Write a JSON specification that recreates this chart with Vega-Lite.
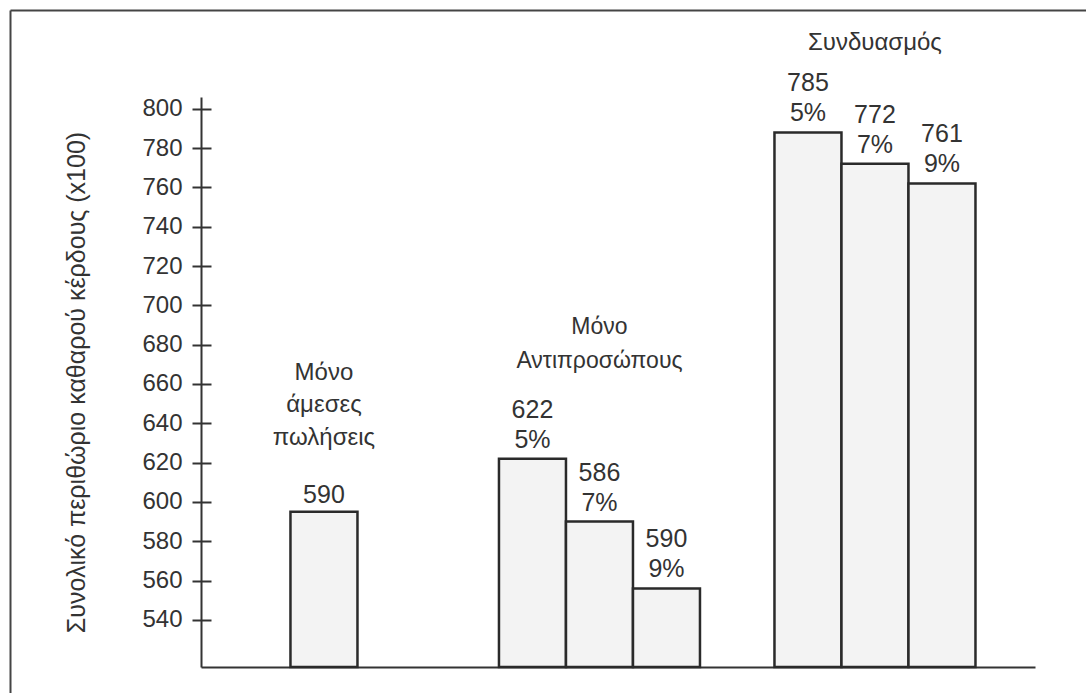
{
  "$schema": "https://vega.github.io/schema/vega-lite/v6.json",
  "width": 1076,
  "height": 683,
  "autosize": {"type": "none"},
  "padding": {"left": 10, "top": 10, "right": 0, "bottom": 0},
  "background": "white",
  "config": {
    "view": {"stroke": null},
    "font": "Liberation Sans"
  },
  "data": {
    "values": [
      {"group": "Μόνο\nάμεσες\nπωλήσεις", "slot": "b", "rate": null, "value": 595, "label": "590"},
      {"group": "Μόνο\nΑντιπροσώπους", "slot": "a", "rate": "5%", "value": 622, "label": "622"},
      {"group": "Μόνο\nΑντιπροσώπους", "slot": "b", "rate": "7%", "value": 590, "label": "586"},
      {"group": "Μόνο\nΑντιπροσώπους", "slot": "c", "rate": "9%", "value": 556, "label": "590"},
      {"group": "Συνδυασμός", "slot": "a", "rate": "5%", "value": 788, "label": "785"},
      {"group": "Συνδυασμός", "slot": "b", "rate": "7%", "value": 772, "label": "772"},
      {"group": "Συνδυασμός", "slot": "c", "rate": "9%", "value": 762, "label": "761"}
    ]
  },
  "layer": [
    {
      "encoding": {
        "x": {
          "field": "group",
          "type": "nominal",
          "scale": {
            "domain": ["Μόνο\nάμεσες\nπωλήσεις", "Μόνο\nΑντιπροσώπους", "Συνδυασμός"],
            "range": [191, 1025],
            "paddingInner": 0.2704,
            "paddingOuter": 0.1488,
            "align": 0.274
          },
          "axis": {
            "orient": "bottom",
            "offset": -26,
            "labels": false,
            "ticks": false,
            "title": null,
            "grid": false,
            "domain": true,
            "domainColor": "#333333",
            "domainWidth": 2
          }
        },
        "xOffset": {
          "field": "slot",
          "type": "nominal",
          "scale": {"domain": ["a", "b", "c"], "paddingInner": 0, "paddingOuter": 0}
        }
      },
      "layer": [
        {
          "mark": {"type": "bar", "fill": "#f3f3f3", "stroke": "#2a2a2a", "strokeWidth": 2.5},
          "encoding": {
            "y": {
              "field": "value",
              "type": "quantitative",
              "scale": {"domain": [516, 806], "range": [657, 87], "zero": false, "nice": false},
              "axis": {
                "orient": "left",
                "offset": -201,
                "domain": false,
                "ticks": true,
                "tickSize": 19,
                "tickWidth": 2,
                "tickColor": "#333333",
                "labels": true,
                "labelFontSize": 24,
                "labelPadding": 10,
                "labelColor": "#333333",
                "labelFont": "Liberation Sans",
                "labelOverlap": false,
                "values": [540, 560, 580, 600, 620, 640, 660, 680, 700, 720, 740, 760, 780, 800],
                "grid": false,
                "title": "Συνολικό περιθώριο καθαρού κέρδους (x100)",
                "titleFont": "Liberation Sans",
                "titleFontSize": 25,
                "titleFontWeight": "normal",
                "titleColor": "#333333",
                "titlePadding": 52
              }
            },
            "y2": {"datum": 516}
          }
        },
        {
          "transform": [{"filter": "datum.rate != null"}],
          "mark": {"type": "text", "baseline": "bottom", "dy": -6, "fontSize": 25, "fill": "#333333", "font": "Liberation Sans"},
          "encoding": {
            "y": {
              "field": "value",
              "type": "quantitative",
              "axis": {
                "orient": "left",
                "offset": -191,
                "domain": true,
                "domainWidth": 2,
                "domainColor": "#333333",
                "ticks": false,
                "labels": false,
                "title": null,
                "grid": false
              }
            },
            "text": {"field": "rate", "type": "nominal"}
          }
        },
        {
          "transform": [{"filter": "datum.rate != null"}],
          "mark": {"type": "text", "baseline": "bottom", "dy": -36, "fontSize": 25, "fill": "#333333", "font": "Liberation Sans"},
          "encoding": {
            "y": {"field": "value", "type": "quantitative", "axis": null},
            "text": {"field": "label", "type": "nominal"}
          }
        },
        {
          "transform": [{"filter": "datum.rate == null"}],
          "mark": {"type": "text", "baseline": "bottom", "dy": -4, "fontSize": 25, "fill": "#333333", "font": "Liberation Sans"},
          "encoding": {
            "y": {"field": "value", "type": "quantitative", "axis": null},
            "text": {"field": "label", "type": "nominal"}
          }
        },
        {
          "transform": [
            {"joinaggregate": [{"op": "max", "field": "value", "as": "gmax"}], "groupby": ["group"]},
            {"filter": {"field": "slot", "equal": "b"}},
            {"filter": {"field": "group", "equal": "Μόνο\nάμεσες\nπωλήσεις"}}
          ],
          "mark": {"type": "text", "baseline": "bottom", "dy": -127, "lineBreak": "\n", "lineHeight": 32.5, "fontSize": 24, "fill": "#333333", "font": "Liberation Sans"},
          "encoding": {
            "y": {"field": "gmax", "type": "quantitative", "axis": null},
            "text": {"field": "group", "type": "nominal"}
          }
        },
        {
          "transform": [
            {"joinaggregate": [{"op": "max", "field": "value", "as": "gmax"}], "groupby": ["group"]},
            {"filter": {"field": "slot", "equal": "b"}},
            {"filter": {"field": "group", "equal": "Μόνο\nΑντιπροσώπους"}}
          ],
          "mark": {"type": "text", "baseline": "bottom", "dy": -120, "lineBreak": "\n", "lineHeight": 34, "fontSize": 23, "fill": "#333333", "font": "Liberation Sans"},
          "encoding": {
            "y": {"field": "gmax", "type": "quantitative", "axis": null},
            "text": {"field": "group", "type": "nominal"}
          }
        },
        {
          "transform": [
            {"joinaggregate": [{"op": "max", "field": "value", "as": "gmax"}], "groupby": ["group"]},
            {"filter": {"field": "slot", "equal": "b"}},
            {"filter": {"field": "group", "equal": "Συνδυασμός"}}
          ],
          "mark": {"type": "text", "baseline": "bottom", "dy": -77, "fontSize": 24, "fill": "#333333", "font": "Liberation Sans"},
          "encoding": {
            "y": {"field": "gmax", "type": "quantitative", "axis": null},
            "text": {"field": "group", "type": "nominal"}
          }
        }
      ],
      "resolve": {"axis": {"y": "independent"}}
    },
    {
      "mark": {"type": "point", "opacity": 0},
      "encoding": {
        "x": {
          "datum": 0,
          "type": "quantitative",
          "scale": {"domain": [0, 1]},
          "axis": {"orient": "top", "offset": 0, "domain": true, "domainColor": "#444444", "domainWidth": 2, "ticks": false, "labels": false, "title": null, "grid": false}
        },
        "y": {
          "datum": 0,
          "type": "quantitative",
          "scale": {"domain": [0, 1]},
          "axis": {"orient": "left", "offset": 0, "domain": true, "domainColor": "#444444", "domainWidth": 2, "ticks": false, "labels": false, "title": null, "grid": false}
        }
      }
    }
  ],
  "resolve": {
    "scale": {"x": "independent", "y": "independent"},
    "axis": {"x": "independent", "y": "independent"}
  }
}
